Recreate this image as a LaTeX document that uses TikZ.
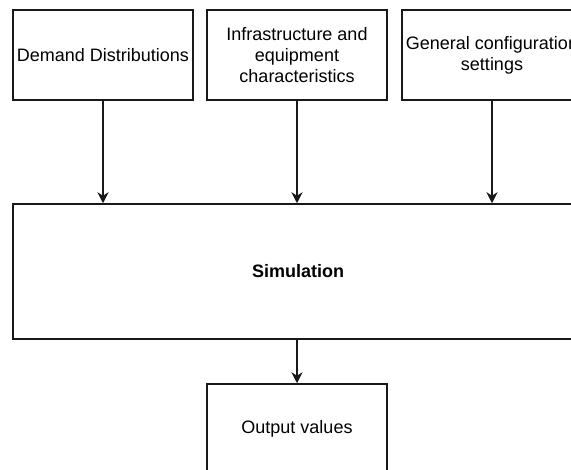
\documentclass[tikz,border=0pt]{standalone}
\usepackage{fontspec}
\setmainfont{Liberation Sans}
\usetikzlibrary{arrows.meta}
\begin{document}
\begin{tikzpicture}[x=1pt,y=-1pt,
  box/.style={draw=black!90, line width=1.5pt, fill=white, align=center,
    inner sep=0pt, font=\fontsize{18}{20.7}\selectfont},
  arr/.style={draw=black!90, line width=1.5pt,
    -{Stealth[length=11pt,width=11pt,inset=3.5pt]}}]
\useasboundingbox (0,0) rectangle (571,470);
\clip (0,0) rectangle (571,470);
\fill[white] (0,0) rectangle (571,470);

% input boxes
\node[box, minimum width=180pt, minimum height=90pt] (dem) at (103,55) {Demand Distributions};
\node[box, minimum width=180pt, minimum height=90pt] (inf) at (297,55) {Infrastructure and\\equipment\\characteristics};
\node[box, minimum width=180pt, minimum height=90pt] (gen) at (492,55) {General configuration\\settings};

% simulation block
\node[box, minimum width=570pt, minimum height=135pt] (sim) at (298,271.5) {\bfseries Simulation};

% output
\node[box, minimum width=180pt, minimum height=90pt] (out) at (297,429) {Output values};

% connectors
\draw[arr] (dem.south) -- (dem.south |- sim.north);
\draw[arr] (inf.south) -- (inf.south |- sim.north);
\draw[arr] (gen.south) -- (gen.south |- sim.north);
\draw[arr] (out.north |- sim.south) -- (out.north);
\end{tikzpicture}
\end{document}
